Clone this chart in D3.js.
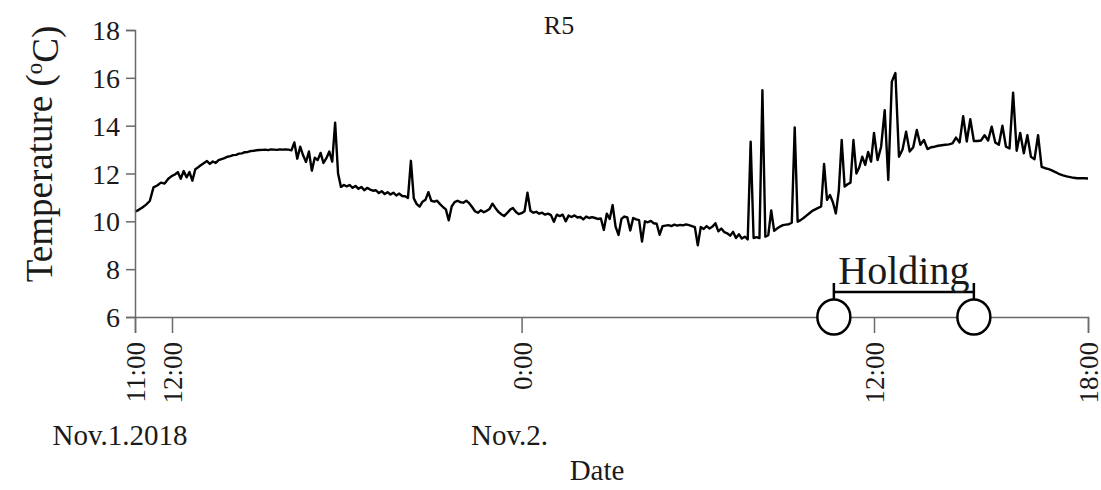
<!DOCTYPE html>
<html>
<head>
<meta charset="utf-8">
<title>R5</title>
<script src="https://cdn.jsdelivr.net/npm/d3@7"></script>
<style>
    body { margin: 0; background: #fff; }
</style>
</head>
<body>
<svg id="chart" width="1101" height="490"></svg>
<script>
// temperature readings, one row per hour, every 6 minutes, starting Nov.1.2018 11:00
var startTime = new Date(2018, 10, 1, 11, 0);
var stepMinutes = 6;
var temps = [
    10.40, 10.48, 10.58, 10.70, 10.85, 11.42, 11.50, 11.62, 11.58, 11.78, // 11:00
    11.90, 11.96, 12.06, 11.78, 12.10, 11.84, 12.06, 11.70, 12.18, 12.26, // 12:00
    12.36, 12.44, 12.52, 12.40, 12.50, 12.44, 12.56, 12.60, 12.64, 12.70, // 13:00
    12.73, 12.77, 12.78, 12.83, 12.84, 12.89, 12.90, 12.94, 12.95, 12.97, // 14:00
    12.98, 12.99, 13.00, 12.98, 13.01, 13.00, 12.99, 13.01, 13.00, 13.01, // 15:00
    13.00, 12.97, 13.30, 12.62, 13.12, 12.76, 12.48, 12.92, 12.12, 12.66, // 16:00
    12.56, 12.86, 12.44, 12.64, 12.92, 12.50, 14.12, 12.00, 11.44, 11.52, // 17:00
    11.46, 11.52, 11.40, 11.48, 11.36, 11.44, 11.30, 11.40, 11.33, 11.28, // 18:00
    11.30, 11.18, 11.26, 11.14, 11.22, 11.12, 11.20, 11.08, 11.16, 11.06, // 19:00
    11.05, 10.98, 12.53, 10.96, 10.72, 10.62, 10.82, 10.90, 11.22, 10.86, // 20:00
    10.82, 10.86, 10.72, 10.60, 10.50, 10.04, 10.62, 10.80, 10.86, 10.80, // 21:00
    10.78, 10.86, 10.76, 10.60, 10.42, 10.36, 10.46, 10.38, 10.44, 10.52, // 22:00
    10.74, 10.56, 10.40, 10.30, 10.22, 10.34, 10.48, 10.56, 10.40, 10.30, // 23:00
    10.34, 10.42, 11.20, 10.44, 10.36, 10.40, 10.32, 10.36, 10.28, 10.32, // 0:00
    10.26, 9.98, 10.28, 10.22, 10.28, 10.00, 10.24, 10.18, 10.25, 10.16,  // 1:00
    10.18, 10.08, 10.20, 10.14, 10.18, 10.14, 10.10, 10.12, 9.64, 10.32,  // 2:00
    10.10, 10.68, 9.78, 9.43, 10.10, 10.20, 10.16, 9.62, 10.14, 10.08,    // 3:00
    10.05, 9.15, 10.00, 9.96, 10.02, 9.92, 9.90, 9.44, 9.80, 9.82,        // 4:00
    9.84, 9.80, 9.86, 9.82, 9.85, 9.83, 9.87, 9.84, 9.80, 9.76,           // 5:00
    9.00, 9.76, 9.68, 9.80, 9.70, 9.78, 9.92, 9.58, 9.70, 9.55,           // 6:00
    9.50, 9.40, 9.56, 9.30, 9.46, 9.28, 9.36, 9.24, 13.33, 9.30,          // 7:00
    9.34, 9.30, 15.48, 9.36, 9.42, 10.46, 9.60, 9.70, 9.78, 9.84,         // 8:00
    9.86, 9.88, 9.94, 13.93, 9.98, 10.05, 10.14, 10.24, 10.34, 10.44,     // 9:00
    10.50, 10.56, 10.62, 12.40, 10.90, 11.10, 10.80, 10.33, 11.26, 13.40, // 10:00
    11.45, 11.55, 11.62, 13.40, 12.00, 12.26, 12.70, 12.36, 12.90, 12.50, // 11:00
    13.70, 12.56, 13.12, 14.65, 11.73, 15.84, 16.20, 12.70, 13.00, 13.75, // 12:00
    12.92, 13.10, 13.82, 13.20, 13.40, 13.02, 13.10, 13.12, 13.16, 13.18, // 13:00
    13.20, 13.22, 13.26, 13.50, 13.30, 14.40, 13.34, 14.27, 13.36, 13.36, // 14:00
    13.38, 13.60, 13.38, 13.96, 13.30, 13.20, 14.00, 13.12, 13.05, 15.38, // 15:00
    12.95, 13.70, 12.85, 13.60, 12.70, 12.60, 13.60, 12.28, 12.22, 12.18, // 16:00
    12.12, 12.05, 11.97, 11.92, 11.88, 11.85, 11.82, 11.80, 11.80, 11.80, // 17:00
    11.79                                                                 // 18:00
];

// x axis tick times and labels
var tickTimes = [
    new Date(2018, 10, 1, 11, 0),
    new Date(2018, 10, 1, 12, 0),
    new Date(2018, 10, 2, 0, 0),
    new Date(2018, 10, 2, 12, 0),
    new Date(2018, 10, 2, 18, 0)
];
var tickLabels = ["11:00", "12:00", "0:00", "12:00", "18:00"];
var dayLabels = ["Nov.1.2018", "Nov.2."];
var dayLabelTimes = [tickTimes[0], tickTimes[2]];
var yTicks = [6, 8, 10, 12, 14, 16, 18];

// holding period
var holdingStart = new Date(2018, 10, 2, 10, 38);
var holdingEnd = new Date(2018, 10, 2, 14, 48);

var serif = '"Liberation Serif", "Times New Roman", Times, serif';
var ink = "#1a1a1a";

var data = temps.map(function(v, i) {
    return { time: new Date(startTime.getTime() + i * stepMinutes * 60000), value: v };
});

var svg = d3.select("#chart");
var plot = { left: 135, right: 1088, top: 30, bottom: 317 };

// the original axis is not evenly spaced between ticks, so map each tick
var x = d3.scaleTime()
    .domain(tickTimes)
    .range([plot.left, plot.left + 37, plot.left + 386.6, plot.left + 739, plot.right]);
var y = d3.scaleLinear().domain([6, 18]).range([plot.bottom, plot.top]);

// line
var line = d3.line()
    .x(function(d) { return x(d.time); })
    .y(function(d) { return y(d.value); });

svg.append("path")
    .datum(data)
    .attr("fill", "none")
    .attr("stroke", "#000")
    .attr("stroke-width", 2.4)
    .attr("stroke-linejoin", "round")
    .attr("d", line);

// y axis
var yAxis = svg.append("g")
    .attr("transform", "translate(" + plot.left + ",0)")
    .call(d3.axisLeft(y).tickValues(yTicks).tickSize(9).tickPadding(6));
yAxis.selectAll("text")
    .style("font-family", serif)
    .style("font-size", "28px")
    .style("fill", ink)
    .attr("dy", "0.34em");

// x axis
var xAxis = svg.append("g")
    .attr("transform", "translate(0," + plot.bottom + ")")
    .call(d3.axisBottom(x).tickValues(tickTimes).tickSize(16)
        .tickFormat(function(d, i) { return tickLabels[i]; }));
xAxis.selectAll("text")
    .style("font-family", serif)
    .style("font-size", "27px")
    .style("fill", ink)
    .attr("transform", "rotate(-90)")
    .attr("text-anchor", "end")
    .attr("x", -25)
    .attr("y", 0)
    .attr("dy", "0.35em");

svg.selectAll(".domain, .tick line")
    .attr("stroke", "#6a6a6a")
    .attr("stroke-width", 1.5);

// day labels under the axis
svg.selectAll(".day-label")
    .data(dayLabels)
    .enter()
    .append("text")
    .attr("class", "day-label")
    .attr("x", function(d, i) { return x(dayLabelTimes[i]) + (i === 0 ? -15 : -12); })
    .attr("y", 445)
    .attr("text-anchor", "middle")
    .style("font-family", serif)
    .style("font-size", "29px")
    .style("fill", ink)
    .text(function(d) { return d; });

svg.append("text")
    .attr("x", 597)
    .attr("y", 480)
    .attr("text-anchor", "middle")
    .style("font-family", serif)
    .style("font-size", "29px")
    .style("fill", ink)
    .text("Date");

// y axis title
var yTitle = svg.append("text")
    .attr("transform", "translate(52,154) rotate(-90)")
    .attr("text-anchor", "middle")
    .style("font-family", serif)
    .style("font-size", "37px")
    .style("fill", ink);
yTitle.append("tspan").text("Temperature (");
yTitle.append("tspan").attr("dy", "-0.45em").style("font-size", "23px").text("o");
yTitle.append("tspan").attr("dy", "0.45em").text("C)");

// chart title
svg.append("text")
    .attr("x", 559)
    .attr("y", 34)
    .attr("text-anchor", "middle")
    .style("font-family", serif)
    .style("font-size", "26px")
    .style("fill", ink)
    .text("R5");

// holding bracket
var hx0 = x(holdingStart), hx1 = x(holdingEnd);
svg.append("path")
    .attr("fill", "none")
    .attr("stroke", "#000")
    .attr("stroke-width", 2.5)
    .attr("d", "M" + hx0 + ",283V300M" + hx0 + ",292H" + hx1 + "M" + hx1 + ",283V300");

svg.selectAll(".hold-circle")
    .data([holdingStart, holdingEnd])
    .enter()
    .append("ellipse")
    .attr("class", "hold-circle")
    .attr("cx", function(d) { return x(d); })
    .attr("cy", plot.bottom)
    .attr("rx", 16.5)
    .attr("ry", 17.5)
    .attr("fill", "#fff")
    .attr("stroke", "#000")
    .attr("stroke-width", 2.5);

svg.append("text")
    .attr("x", (hx0 + hx1) / 2)
    .attr("y", 284)
    .attr("text-anchor", "middle")
    .style("font-family", serif)
    .style("font-size", "40px")
    .style("fill", ink)
    .text("Holding");
</script>
</body>
</html>
